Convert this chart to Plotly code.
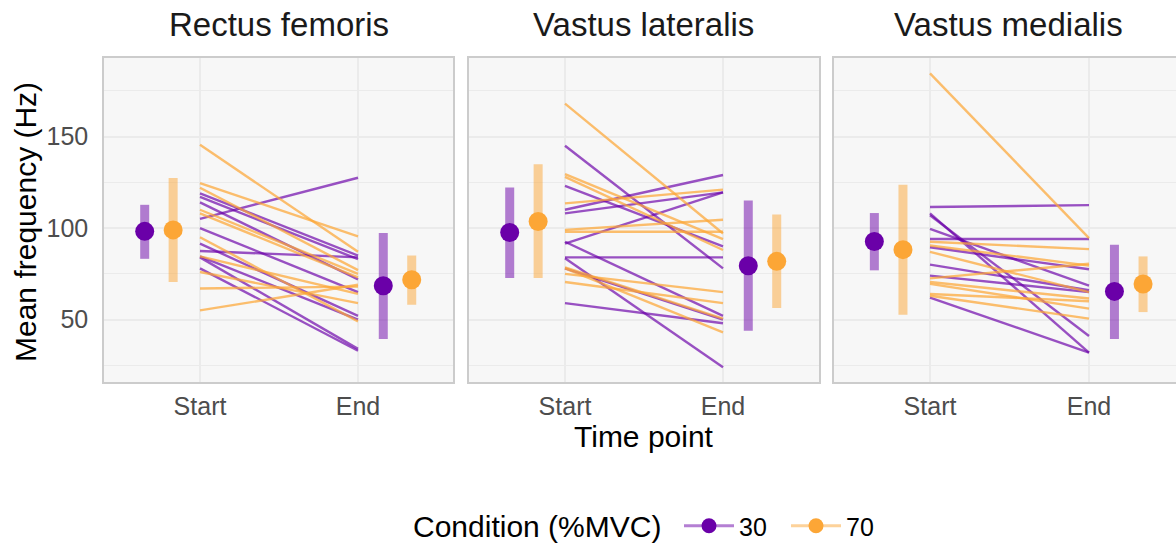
import plotly.graph_objects as go

# ---------------- data ----------------
MUSCLES = ["Rectus femoris", "Vastus lateralis", "Vastus medialis"]
TIME_POINTS = ["Start", "End"]
CONDITIONS = ["30", "70"]
Y_TICKS = [50, 100, 150]
Y_MINOR = [25, 75, 125, 175]

# individual participants (Hz)
rf_30_start = [119, 117, 114, 105, 100, 91.5, 87.5, 84.5, 84, 78]
rf_30_end = [85, 83, 72, 127.5, 65, 52, 84, 50, 34, 33]
rf_70_start = [145.5, 124.5, 122, 110, 108, 95, 84.5, 76, 67, 55]
rf_70_end = [87, 95.5, 77, 75, 73, 49, 64, 59, 68, 69]

vl_30_start = [145, 123, 110, 108, 92.5, 91.5, 84, 83.5, 78, 59]
vl_30_end = [78, 90, 129, 119.5, 52, 119.5, 84, 24, 50, 48]
vl_70_start = [168, 129.5, 128, 113.5, 99, 98, 78.5, 78, 75, 70.5]
vl_70_end = [97, 94, 88, 121, 104.5, 98, 50.5, 43, 65, 59]

vm_30_start = [111.5, 108, 107, 99.5, 94, 89.5, 80, 74, 62]
vm_30_end = [112.5, 32, 41, 68.5, 94, 77.5, 66, 65, 32]
vm_70_start = [184.5, 92.5, 90.5, 87, 72.5, 70.5, 69.5, 64, 63]
vm_70_end = [94.5, 88.5, 79.5, 65, 80.5, 61.5, 56, 60, 50.5]

# group summaries (mean and interval), one value per muscle
mean_30_start = [98.2, 97.6, 92.7]
low_30_start = [83.2, 72.7, 76.9]
high_30_start = [112.7, 122.2, 108.2]
mean_30_end = [68.5, 79.4, 65.4]
low_30_end = [39.4, 43.9, 39.4]
high_30_end = [97.3, 115.1, 90.9]
mean_70_start = [99.0, 103.6, 88.2]
low_70_start = [70.5, 72.7, 52.7]
high_70_start = [127.3, 134.9, 123.6]
mean_70_end = [71.8, 81.8, 69.4]
low_70_end = [58.1, 56.3, 54.1]
high_70_end = [85.0, 107.4, 84.5]

# ---------------- style ----------------
W, H = 1176, 545
FONT = "Liberation Sans, Arial, sans-serif"
SOLID = {"30": "#6A00A8", "70": "#FCA636"}
LINE = {"30": "rgba(106,0,168,0.68)", "70": "rgba(252,166,54,0.72)"}
BAR = {"30": "rgba(106,0,168,0.5)", "70": "rgba(252,166,54,0.5)"}
NUDGE = {"Start": -0.26, "End": 0.25}
DODGE = {"30": -0.09, "70": 0.09}
BG = "#F7F7F7"
GRID = "#EBEBEB"
BORDER = "#CCCCCC"

panels_px = [(104, 453), (469, 819), (834, 1176)]
start_px, end_px = [200, 565, 930], [358, 723, 1089]
y_top, y_bot = 58, 382
Y_RANGE = [15.9, 192.9]

individual = {
    0: {"30": (rf_30_start, rf_30_end), "70": (rf_70_start, rf_70_end)},
    1: {"30": (vl_30_start, vl_30_end), "70": (vl_70_start, vl_70_end)},
    2: {"30": (vm_30_start, vm_30_end), "70": (vm_70_start, vm_70_end)},
}
summary = {
    "30": {"Start": (mean_30_start, low_30_start, high_30_start),
           "End": (mean_30_end, low_30_end, high_30_end)},
    "70": {"Start": (mean_70_start, low_70_start, high_70_start),
           "End": (mean_70_end, low_70_end, high_70_end)},
}

pos = {t: i + 1 for i, t in enumerate(TIME_POINTS)}

fig = go.Figure()
layout_axes = {}
annotations = []

for i, muscle in enumerate(MUSCLES):
    sfx = "" if i == 0 else str(i + 1)
    xref, yref = "x" + sfx, "y" + sfx
    # participant lines
    for cond in CONDITIONS:
        starts, ends = individual[i][cond]
        xs, ys = [], []
        for s, e in zip(starts, ends):
            xs += [pos["Start"], pos["End"], None]
            ys += [s, e, None]
        fig.add_trace(go.Scatter(
            x=xs, y=ys, mode="lines", xaxis=xref, yaxis=yref,
            line=dict(color=LINE[cond], width=2.4), showlegend=False,
            hoverinfo="skip"))
    # summaries
    for cond in CONDITIONS:
        xs, ys, up, dn = [], [], [], []
        for t in TIME_POINTS:
            m, lo, hi = (arr[i] for arr in summary[cond][t])
            xs.append(pos[t] + NUDGE[t] + DODGE[cond])
            ys.append(m)
            up.append(hi - m)
            dn.append(m - lo)
        fig.add_trace(go.Scatter(
            x=xs, y=ys, mode="markers", xaxis=xref, yaxis=yref,
            marker=dict(color=SOLID[cond], size=19, line=dict(width=0)),
            error_y=dict(type="data", array=up, arrayminus=dn, symmetric=False,
                         color=BAR[cond], thickness=9, width=0),
            showlegend=False))

    x0, x1 = panels_px[i]
    unit = end_px[i] - start_px[i]
    xr = [1 - (start_px[i] - x0) / unit, 2 + (x1 - end_px[i]) / unit]
    layout_axes["xaxis" + sfx] = dict(
        domain=[x0 / W, x1 / W], range=xr, anchor=yref,
        tickvals=[pos[t] for t in TIME_POINTS], ticktext=TIME_POINTS,
        showgrid=True, gridcolor=GRID, gridwidth=1.8, zeroline=False,
        showline=True, mirror=True, linecolor=BORDER, linewidth=1.5,
        ticks="outside", ticklen=1, tickcolor="rgba(0,0,0,0)",
        tickfont=dict(family=FONT, size=25, color="#4D4D4D"))
    layout_axes["yaxis" + sfx] = dict(
        domain=[1 - y_bot / H, 1 - y_top / H], range=Y_RANGE, anchor=xref,
        tickvals=Y_TICKS, showticklabels=(i == 0),
        showgrid=True, gridcolor=GRID, gridwidth=1.8, zeroline=False,
        minor=dict(tickvals=Y_MINOR, showgrid=True, gridcolor=GRID, gridwidth=1.2),
        showline=True, mirror=(i < 2), linecolor=BORDER, linewidth=1.5,
        ticks="outside", ticklen=9, tickcolor="rgba(0,0,0,0)",
        tickfont=dict(family=FONT, size=25, color="#4D4D4D"))
    centre = (x0 + (x0 + 349)) / 2
    annotations.append(dict(
        text=muscle, x=centre / W, y=1 - 24 / H, xref="paper", yref="paper",
        xanchor="center", yanchor="middle", showarrow=False,
        font=dict(family=FONT, size=33, color="#1A1A1A")))

# legend entries
for cond in CONDITIONS:
    fig.add_trace(go.Scatter(
        x=[None], y=[None], mode="lines+markers", name=cond,
        line=dict(color=BAR[cond], width=3),
        marker=dict(color=SOLID[cond], size=15)))

annotations.append(dict(
    text="Mean frequency (Hz)", x=25 / W, y=1 - 222 / H, xref="paper", yref="paper",
    textangle=-90, xanchor="center", yanchor="middle", showarrow=False,
    font=dict(family=FONT, size=30, color="#000000")))
annotations.append(dict(
    text="Time point", x=644 / W, y=1 - 436 / H, xref="paper", yref="paper",
    xanchor="center", yanchor="middle", showarrow=False,
    font=dict(family=FONT, size=30, color="#000000")))
annotations.append(dict(
    text="Condition (%MVC)", x=411 / W, y=1 - 526 / H, xref="paper", yref="paper",
    xanchor="left", yanchor="middle", showarrow=False,
    font=dict(family=FONT, size=30, color="#000000")))

fig.update_layout(
    width=W, height=H,
    margin=dict(l=0, r=0, t=0, b=0, autoexpand=False),
    paper_bgcolor="white", plot_bgcolor=BG,
    font=dict(family=FONT),
    annotations=annotations,
    showlegend=True,
    legend=dict(
        orientation="h", x=679 / W, xanchor="left", y=1 - 526 / H, yanchor="middle",
        font=dict(family=FONT, size=25, color="#000000"),
        bgcolor="rgba(0,0,0,0)", itemwidth=50,
        entrywidth=42, entrywidthmode="pixels"),
    **layout_axes)

fig.write_html("out.html")
